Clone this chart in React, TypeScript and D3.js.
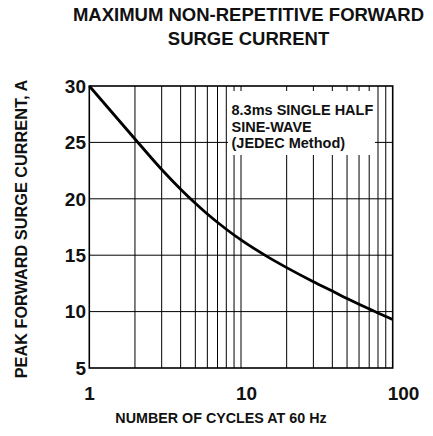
import React from "react";
import * as d3 from "d3";

const cycles = [1, 2, 3, 4, 5, 6, 8, 10, 15, 20, 30, 40, 50, 60, 70, 80, 100];
const current = [30, 25.3, 22.6, 20.85, 19.6, 18.65, 17.3, 16.35, 14.85, 13.9, 12.65, 11.82, 11.17, 10.66, 10.24, 9.88, 9.3];
const xTicks = [1, 10, 100];
const yTicks = [5, 10, 15, 20, 25, 30];
const xGrid = [2, 3, 4, 5, 6, 7, 8, 9, 10, 20, 30, 40, 50, 60, 70, 80, 90];
const yGrid = [10, 15, 20, 25];
const titleLines = ["MAXIMUM NON-REPETITIVE FORWARD", "SURGE CURRENT"];
const noteLines = ["8.3ms SINGLE HALF", "SINE-WAVE", "(JEDEC Method)"];
const xTitle = "NUMBER OF CYCLES AT 60 Hz";
const yTitle = "PEAK FORWARD SURGE CURRENT, A";

export default function App() {
  const L = 89.3, R = 392.7, T = 86, B = 368;
  const x = d3.scaleLog().domain([1, 100]).range([L, R]);
  const y = d3.scaleLinear().domain([5, 30]).range([B, T]);
  const line = d3
    .line<number>()
    .x((_, i) => x(cycles[i]))
    .y((d) => y(d))
    .curve(d3.curveMonotoneX);
  const font = "Arial, 'Liberation Sans', Helvetica, sans-serif";
  return (
    <svg width={433} height={436} style={{ position: "absolute", left: 0, top: 0, background: "#fff" }} fontFamily={font}>
      <rect x={0} y={0} width={433} height={436} fill="#fff" />
      {titleLines.map((t, i) => (
        <text key={t} x={248.5} y={20.7 + i * 24.3} textAnchor="middle" fontSize={18.5} fontWeight="bold" fill="#111">
          {t}
        </text>
      ))}
      {xGrid.map((g) => (
        <line key={"xg" + g} x1={x(g)} x2={x(g)} y1={T} y2={B} stroke="#000" strokeWidth={1} />
      ))}
      {yGrid.map((g) => (
        <line key={"yg" + g} x1={L} x2={R} y1={y(g)} y2={y(g)} stroke="#000" strokeWidth={1} />
      ))}
      <rect x={228} y={91} width={147} height={64} fill="#fff" />
      {noteLines.map((t, i) => (
        <text key={t} x={231.5} y={115 + i * 16.7} fontSize={14.5} fontWeight="bold" fill="#111">
          {t}
        </text>
      ))}
      <path d={line(current) || ""} fill="none" stroke="#000" strokeWidth={2.8} />
      <rect x={L} y={T} width={R - L} height={B - T} fill="none" stroke="#000" strokeWidth={1.6} />
      {yTicks.map((t) => (
        <text key={"yt" + t} x={86} y={y(t) + 6.8} textAnchor="end" fontSize={19} fontWeight="bold" fill="#111">
          {t}
        </text>
      ))}
      {xTicks.map((t) => (
        <text key={"xt" + t} x={x(t) - 5} y={399.5} textAnchor="start" fontSize={19} fontWeight="bold" fill="#111">
          {t}
        </text>
      ))}
      <text x={221} y={422.7} textAnchor="middle" fontSize={14.3} fontWeight="bold" fill="#111">
        {xTitle}
      </text>
      <text
        transform={`translate(26.5,229) rotate(-90)`}
        textAnchor="middle"
        fontSize={16.3}
        fontWeight="bold"
        fill="#111"
      >
        {yTitle}
      </text>
    </svg>
  );
}
